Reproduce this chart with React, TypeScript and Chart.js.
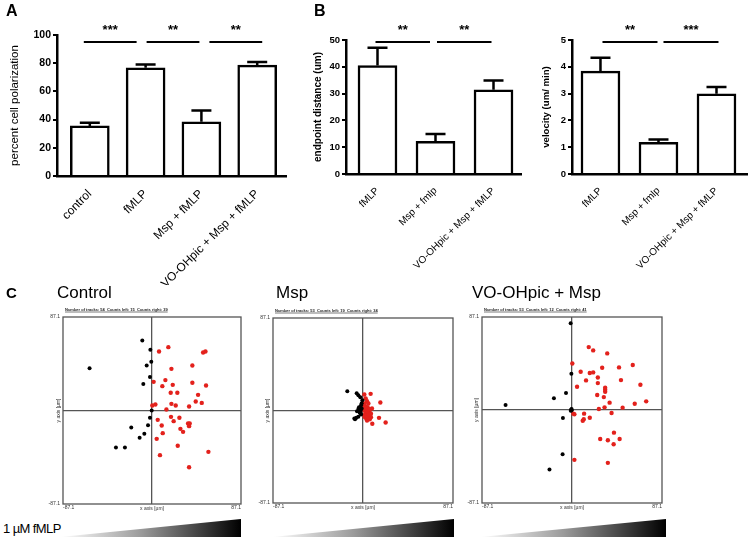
import React, { useEffect, useRef } from 'react';
import { Chart, registerables } from 'chart.js';
Chart.register(...registerables);

const FONT = '"Liberation Sans", Arial, Helvetica, sans-serif';

// ---------- Panel A: percent cell polarization ----------
const polCategories = ['control', 'fMLP', 'Msp + fMLP', 'VO-OHpic + Msp + fMLP'];
const polMeans = [35.5, 76.8, 38.5, 78.6];
const polSem = [2.3, 2.2, 8.0, 2.2];
const polStars = ['***', '**', '**'];
const polTicks = [0, 20, 40, 60, 80, 100];

// ---------- Panel B: endpoint distance / velocity ----------
const migCategories = ['fMLP', 'Msp + fmlp', 'VO-OHpic + Msp + fMLP'];
const distMeans = [40.5, 12.2, 31.4];
const distSem = [6.6, 2.7, 3.5];
const distStars = ['**', '**'];
const distTicks = [0, 10, 20, 30, 40, 50];
const velMeans = [3.84, 1.18, 2.99];
const velSem = [0.5, 0.11, 0.26];
const velStars = ['**', '***'];
const velTicks = [0, 1, 2, 3, 4, 5];

// ---------- Panel C: track endpoints (x, y in µm) ----------
const TRACK_LIMIT = 87.1;
const controlLeft = [
  [-9.5, 65.2], [-1.6, 56.5], [-0.7, 45.3], [-5.2, 41.9], [-61.1, 39.4], [-2.0, 31.1], [-8.5, 24.8],
  [-0.3, 0], [-2.0, -6.8], [-3.9, -13.7], [-20.3, -15.8], [-7.5, -21.7], [-12.1, -25.5], [-35.3, -34.5], [-26.5, -34.5],
];
const controlRight = [
  [6.9, 55.0], [16.0, 59.0], [50.0, 54.0], [52.3, 55.0], [19.0, 38.8], [39.5, 41.9], [13.1, 28.3], [1.6, 26.7],
  [10.1, 22.7], [20.3, 23.9], [39.5, 25.8], [52.9, 23.3], [18.3, 16.5], [24.8, 16.5], [45.1, 14.6], [42.8, 8.4],
  [48.7, 7.1], [0.3, 4.7], [3.3, 5.6], [19.0, 6.2], [23.2, 4.7], [36.3, 3.7], [14.1, 0.9], [5.6, -8.7],
  [18.6, -5.9], [26.8, -6.8], [21.2, -9.9], [9.5, -14.0], [35.3, -12.1], [36.9, -12.1], [36.3, -14.6], [27.8, -17.1],
  [30.4, -19.9], [10.5, -21.1], [4.6, -26.4], [25.2, -32.9], [55.2, -38.5], [7.8, -41.6], [36.3, -52.8],
];
const mspLeft = [
  [-15.2, 18.2], [-6.1, 16.3], [-4.5, 14.4], [-2.6, 12.5], [-0.6, 9.7], [-1.3, 6.9], [-1.9, 5.0], [-3.9, 3.1],
  [-4.5, 1.3], [-5.8, -0.6], [-3.2, -1.9], [-1.9, -3.8], [-4.5, -6.0], [-6.5, -6.9], [-8.4, -7.5], [-2.3, 0],
  [-1.3, 1.9], [-2.6, -2.5], [-7.7, -8.2],
];
const mspRight = [
  [1.3, 15.0], [7.4, 15.7], [2.6, 11.3], [3.9, 8.8], [5.2, 6.6], [1.3, 6.6], [1.9, 4.4], [4.5, 3.1],
  [8.7, 1.9], [16.8, 7.5], [3.2, 1.3], [1.3, 0], [5.2, -0.6], [6.5, -1.9], [2.6, -2.5], [3.9, -3.8],
  [5.2, -5.0], [7.7, -6.3], [1.9, -6.3], [3.2, -7.5], [6.5, -8.2], [3.9, -9.4], [15.5, -6.9], [9.0, -12.5],
  [21.9, -11.3], [0.6, 3.1], [2.6, 2.5], [6.5, 1.3], [4.5, -2.5], [1.3, -4.4], [5.2, -6.9], [3.2, -5.0],
  [5.8, -3.8], [7.7, -3.1],
];
const voLeft = [
  [-1.3, 81.3], [-0.6, 34.0], [-5.8, 15.9], [-17.5, 10.9], [-64.3, 4.7], [-0.3, -0.3], [-8.8, -7.5],
  [-9.1, -41.4], [-21.8, -55.8], [-0.8, 0.4], [-1.2, -0.6], [-0.4, 0.9],
];
const voRight = [
  [16.2, 58.9], [20.5, 55.8], [34.1, 53.0], [0.3, 43.6], [58.8, 42.1], [29.2, 39.6], [45.5, 39.9], [8.4, 35.8],
  [17.2, 34.6], [20.5, 35.2], [25.0, 30.5], [13.6, 27.7], [47.4, 28.0], [25.0, 25.2], [66.2, 23.7], [4.9, 21.8],
  [32.1, 20.9], [32.1, 19.0], [32.1, 17.1], [24.4, 14.0], [30.8, 12.1], [36.4, 6.9], [71.8, 8.1], [60.7, 5.9],
  [31.5, 2.5], [26.0, 0.9], [49.0, 2.2], [1.3, -3.4], [2.3, -4.0], [11.7, -3.4], [38.3, -2.8], [17.2, -7.2],
  [11.4, -8.7], [10.4, -10.0], [40.6, -21.2], [46.1, -27.1], [27.3, -27.1], [34.7, -28.3], [40.3, -32.1], [2.3, -46.7],
  [34.7, -49.5],
];

type Rect = { x: number; y: number; w: number; h: number };
type Area = { l: number; t: number; r: number; b: number };

function ChartCanvas({ rect, build }: { rect: Rect; build: () => any }) {
  const ref = useRef<HTMLCanvasElement | null>(null);
  useEffect(() => {
    const c = new Chart(ref.current as HTMLCanvasElement, build());
    return () => c.destroy();
  }, []);
  return (
    <canvas
      ref={ref}
      width={rect.w}
      height={rect.h}
      style={{ position: 'absolute', left: rect.x, top: rect.y, width: rect.w, height: rect.h }}
    />
  );
}

interface BarSpec {
  rect: Rect;
  area: Area;
  cats: string[];
  means: number[];
  sem: number[];
  stars: string[];
  ticks: number[];
  xRange: [number, number];
  yTitle: string;
  yTitleX: number;
  yTitleSize: number;
  yTitleWeight: string;
  tickSize: number;
  catSize: number;
  sigDy: number;
  sigSpan: [number, number, number]; // start shift, end shift, gap (px)
}

function barConfig(s: BarSpec) {
  const lh = s.yTitleSize * 1.2;
  const errPlugin = {
    id: 'errbars',
    afterDatasetsDraw(chart: any) {
      const ctx = chart.ctx;
      const y = chart.scales.y;
      const meta = chart.getDatasetMeta(0);
      ctx.save();
      ctx.strokeStyle = '#000';
      ctx.lineWidth = 2.5;
      meta.data.forEach((el: any, i: number) => {
        const top = y.getPixelForValue(s.means[i] + s.sem[i]);
        ctx.beginPath();
        ctx.moveTo(el.x, el.y);
        ctx.lineTo(el.x, top);
        ctx.moveTo(el.x - 10, top);
        ctx.lineTo(el.x + 10, top);
        ctx.stroke();
      });
      ctx.restore();
    },
  };
  const sigPlugin = {
    id: 'sig',
    afterDraw(chart: any) {
      const ctx = chart.ctx;
      const x = chart.scales.x;
      const ly = chart.chartArea.top + s.sigDy;
      const start = x.getPixelForValue(0) + s.sigSpan[0];
      const end = x.getPixelForValue(s.cats.length - 1) + s.sigSpan[1];
      const gap = s.sigSpan[2];
      const n = s.stars.length;
      const segW = (end - start - gap * (n - 1)) / n;
      ctx.save();
      ctx.strokeStyle = '#000';
      ctx.fillStyle = '#000';
      ctx.lineWidth = 2;
      ctx.font = `bold 13px ${FONT}`;
      ctx.textAlign = 'center';
      ctx.textBaseline = 'alphabetic';
      s.stars.forEach((st, i) => {
        const x1 = start + i * (segW + gap);
        const x2 = x1 + segW;
        ctx.beginPath();
        ctx.moveTo(x1, ly);
        ctx.lineTo(x2, ly);
        ctx.stroke();
        ctx.fillText(st, (x1 + x2) / 2, ly - 8);
      });
      ctx.restore();
    },
  };
  return {
    type: 'bar',
    data: {
      datasets: [
        {
          data: s.means.map((v, i) => ({ x: i, y: v })),
          backgroundColor: '#fff',
          borderColor: '#000',
          borderWidth: 2.5,
          barThickness: 39,
        },
      ],
    },
    options: {
      responsive: false,
      animation: false,
      devicePixelRatio: 1,
      layout: { padding: { left: 0, top: s.area.t - s.rect.y, right: s.rect.x + s.rect.w - s.area.r, bottom: 0 } },
      plugins: { legend: { display: false }, tooltip: { enabled: false } },
      scales: {
        x: {
          type: 'linear',
          offset: false,
          min: s.xRange[0],
          max: s.xRange[1],
          afterBuildTicks: (sc: any) => {
            sc.ticks = s.cats.map((_, i) => ({ value: i }));
          },
          afterFit: (sc: any) => {
            sc.height = s.rect.y + s.rect.h - s.area.b;
          },
          grid: { display: false, offset: false },
          border: { display: true, color: '#000', width: 2.5 },
          ticks: {
            autoSkip: false,
            minRotation: 45,
            maxRotation: 45,
            color: '#000',
            padding: 3,
            font: { family: FONT, size: s.catSize },
            callback: (_v: any, i: number) => s.cats[i] ?? '',
          },
        },
        y: {
          min: 0,
          max: s.ticks[s.ticks.length - 1],
          afterBuildTicks: (sc: any) => {
            sc.ticks = s.ticks.map((v) => ({ value: v }));
          },
          afterFit: (sc: any) => {
            sc.width = s.area.l - s.rect.x;
          },
          grid: { drawOnChartArea: false, drawTicks: true, tickLength: 4, color: '#000', lineWidth: 2 },
          border: { display: true, color: '#000', width: 2.5 },
          ticks: { color: '#000', padding: 2, font: { family: FONT, size: s.tickSize, weight: 'bold' } },
          title: {
            display: true,
            text: s.yTitle,
            color: '#000',
            font: { family: FONT, size: s.yTitleSize, weight: s.yTitleWeight },
            padding: { top: s.yTitleX - s.rect.x - lh / 2, bottom: 0 },
          },
        },
      },
    },
    plugins: [errPlugin, sigPlugin],
  };
}

interface ScatterSpec {
  rect: Rect;
  area: Area;
  left: number[][];
  right: number[][];
  yTitleX: number;
  xTitleY: number;
}

function scatterConfig(s: ScatterSpec) {
  const small = 5;
  const lh = small * 1.2;
  const header = `Number of tracks: ${s.left.length + s.right.length}  Counts left: ${s.left.length}  Counts right: ${s.right.length}`;
  const framePlugin = {
    id: 'frame',
    beforeDatasetsDraw(chart: any) {
      const { ctx, chartArea: a } = chart;
      ctx.save();
      ctx.strokeStyle = '#555';
      ctx.lineWidth = 1.3;
      ctx.strokeRect(a.left, a.top, a.right - a.left, a.bottom - a.top);
      ctx.restore();
    },
    afterDraw(chart: any) {
      const { ctx, chartArea: a } = chart;
      ctx.save();
      ctx.fillStyle = '#222';
      ctx.font = `bold 4px ${FONT}`;
      ctx.textAlign = 'left';
      ctx.textBaseline = 'alphabetic';
      const tx = a.left + 2;
      const ty = a.top - 6;
      ctx.fillText(header, tx, ty);
      const w = ctx.measureText(header).width;
      ctx.strokeStyle = '#222';
      ctx.lineWidth = 0.6;
      ctx.beginPath();
      ctx.moveTo(tx, ty + 1);
      ctx.lineTo(tx + w, ty + 1);
      ctx.stroke();
      ctx.restore();
    },
  };
  const axisCommon = (isX: boolean) => ({
    type: 'linear',
    min: -TRACK_LIMIT,
    max: TRACK_LIMIT,
    afterBuildTicks: (sc: any) => {
      sc.ticks = [{ value: -TRACK_LIMIT }, { value: 0 }, { value: TRACK_LIMIT }];
    },
    grid: {
      drawTicks: false,
      lineWidth: 1.3,
      color: (ctx: any) => (ctx.tick && ctx.tick.value === 0 ? '#555' : 'rgba(0,0,0,0)'),
    },
    border: { display: false },
    ticks: {
      autoSkip: false,
      maxRotation: 0,
      minRotation: 0,
      align: isX ? 'inner' : 'center',
      padding: isX ? 1 : 3,
      color: '#333',
      font: { family: FONT, size: small },
      callback: (v: any) => (v === 0 ? '' : String(v)),
    },
  });
  return {
    type: 'scatter',
    data: {
      datasets: [
        {
          data: s.left.map(([x, y]) => ({ x, y })),
          pointBackgroundColor: '#000',
          pointBorderWidth: 0,
          pointRadius: 2,
        },
        {
          data: s.right.map(([x, y]) => ({ x, y })),
          pointBackgroundColor: '#e3211c',
          pointBorderWidth: 0,
          pointRadius: 2.2,
        },
      ],
    },
    options: {
      responsive: false,
      animation: false,
      devicePixelRatio: 1,
      layout: { padding: { left: 0, top: s.area.t - s.rect.y, right: s.rect.x + s.rect.w - s.area.r, bottom: 0 } },
      plugins: { legend: { display: false }, tooltip: { enabled: false } },
      scales: {
        x: {
          ...axisCommon(true),
          afterFit: (sc: any) => {
            sc.height = s.rect.y + s.rect.h - s.area.b;
          },
          title: {
            display: true,
            text: 'x axis [µm]',
            color: '#333',
            font: { family: FONT, size: small },
            padding: { top: 0, bottom: s.rect.y + s.rect.h - s.xTitleY - lh / 2 },
          },
        },
        y: {
          ...axisCommon(false),
          afterFit: (sc: any) => {
            sc.width = s.area.l - s.rect.x;
          },
          title: {
            display: true,
            text: 'y axis [µm]',
            color: '#333',
            font: { family: FONT, size: small },
            padding: { top: s.yTitleX - s.rect.x - lh / 2, bottom: 0 },
          },
        },
      },
    },
    plugins: [framePlugin],
  };
}

const label = (text: string, left: number, top: number, size: number, bold = false, extra: any = {}) => (
  <div
    style={{
      position: 'absolute',
      left,
      top,
      fontSize: size,
      lineHeight: `${size}px`,
      fontWeight: bold ? 'bold' : 'normal',
      whiteSpace: 'nowrap',
      color: '#000',
      ...extra,
    }}
  >
    {text}
  </div>
);

const wedge = (left: number, width: number) => (
  <div
    style={{
      position: 'absolute',
      left,
      top: 519,
      width,
      height: 18,
      background: 'linear-gradient(to right, #ffffff 0%, #9a9a9a 45%, #000000 100%)',
      clipPath: 'polygon(0 100%, 100% 0, 100% 100%)',
    }}
  />
);

export default function App() {
  return (
    <div
      style={{
        position: 'absolute',
        left: 0,
        top: 0,
        width: 749,
        height: 540,
        background: '#fff',
        overflow: 'hidden',
        fontFamily: FONT,
      }}
    >
      <ChartCanvas
        rect={{ x: 0, y: 0, w: 296, h: 285 }}
        build={() =>
          barConfig({
            rect: { x: 0, y: 0, w: 296, h: 285 },
            area: { l: 57, t: 35, r: 286, b: 176 },
            cats: polCategories,
            means: polMeans,
            sem: polSem,
            stars: polStars,
            ticks: polTicks,
            xRange: [-0.588, 3.516],
            yTitle: 'percent cell polarization',
            yTitleX: 15,
            yTitleSize: 11.5,
            yTitleWeight: 'normal',
            tickSize: 10.5,
            catSize: 12,
            sigDy: 7,
            sigSpan: [-6, 5, 10],
          })
        }
      />
      <ChartCanvas
        rect={{ x: 300, y: 0, w: 225, h: 285 }}
        build={() =>
          barConfig({
            rect: { x: 300, y: 0, w: 225, h: 285 },
            area: { l: 346, t: 40, r: 521, b: 174 },
            cats: migCategories,
            means: distMeans,
            sem: distSem,
            stars: distStars,
            ticks: distTicks,
            xRange: [-0.543, 2.474],
            yTitle: 'endpoint distance (um)',
            yTitleX: 318.5,
            yTitleSize: 10,
            yTitleWeight: 'bold',
            tickSize: 9.5,
            catSize: 10,
            sigDy: 2,
            sigSpan: [-2, -2, 7],
          })
        }
      />
      <ChartCanvas
        rect={{ x: 525, y: 0, w: 224, h: 285 }}
        build={() =>
          barConfig({
            rect: { x: 525, y: 0, w: 224, h: 285 },
            area: { l: 572, t: 40, r: 747, b: 174 },
            cats: migCategories,
            means: velMeans,
            sem: velSem,
            stars: velStars,
            ticks: velTicks,
            xRange: [-0.491, 2.526],
            yTitle: 'velocity (um/ min)',
            yTitleX: 546.5,
            yTitleSize: 9.6,
            yTitleWeight: 'bold',
            tickSize: 9.5,
            catSize: 10,
            sigDy: 2,
            sigSpan: [2, 2, 6],
          })
        }
      />
      <ChartCanvas
        rect={{ x: 30, y: 303, w: 225, h: 212 }}
        build={() =>
          scatterConfig({
            rect: { x: 30, y: 303, w: 225, h: 212 },
            area: { l: 63, t: 317, r: 241, b: 504 },
            left: controlLeft,
            right: controlRight,
            yTitleX: 58.5,
            xTitleY: 509,
          })
        }
      />
      <ChartCanvas
        rect={{ x: 255, y: 303, w: 213, h: 212 }}
        build={() =>
          scatterConfig({
            rect: { x: 255, y: 303, w: 213, h: 212 },
            area: { l: 273, t: 318, r: 453, b: 503 },
            left: mspLeft,
            right: mspRight,
            yTitleX: 268,
            xTitleY: 508,
          })
        }
      />
      <ChartCanvas
        rect={{ x: 462, y: 303, w: 215, h: 212 }}
        build={() =>
          scatterConfig({
            rect: { x: 462, y: 303, w: 215, h: 212 },
            area: { l: 482, t: 317, r: 662, b: 503 },
            left: voLeft,
            right: voRight,
            yTitleX: 476.5,
            xTitleY: 508,
          })
        }
      />
      {label('A', 6, 3, 16, true)}
      {label('B', 314, 3, 16, true)}
      {label('C', 6, 285, 15, true)}
      {label('Control', 57, 284, 17)}
      {label('Msp', 276, 284, 17)}
      {label('VO-OHpic + Msp', 472, 284, 17)}
      {label('1 µM  fMLP', 3, 522, 13, false, { letterSpacing: '-0.6px' })}
      {wedge(60, 181)}
      {wedge(272, 182)}
      {wedge(480, 186)}
    </div>
  );
}
